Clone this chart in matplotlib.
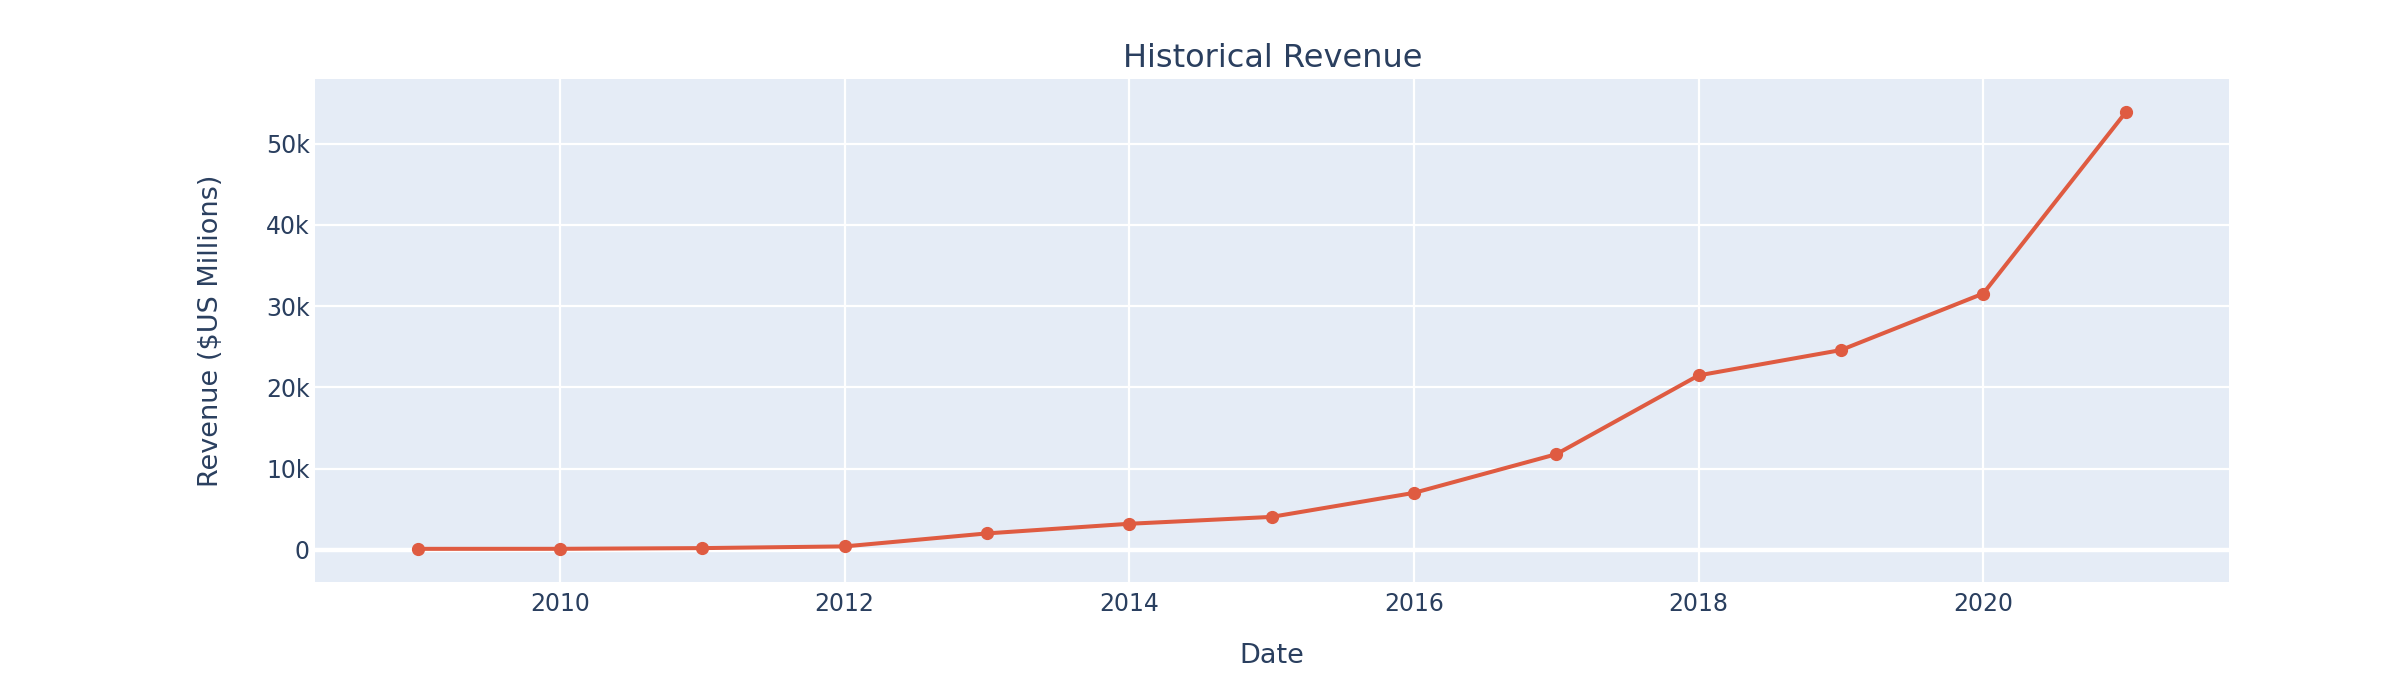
import matplotlib
matplotlib.use('Agg')
from matplotlib import pyplot as plt
from matplotlib.ticker import FuncFormatter

# Revenue ($US millions) by year
years = [2009, 2010, 2011, 2012, 2013, 2014, 2015, 2016, 2017, 2018, 2019, 2020, 2021]
revenue = [112, 117, 204, 413, 2013, 3198, 4046, 7000, 11759, 21461, 24578, 31536, 53823]

x_ticks = [2010, 2012, 2014, 2016, 2018, 2020]
y_ticks = [0, 10000, 20000, 30000, 40000, 50000]

txt = '#2a3f5f'
plt.rcParams['font.family'] = ['DejaVu Sans']

fig = plt.figure(figsize=(23.96, 6.96), dpi=100)
ax = fig.add_axes([0.1315, 0.164, 0.799, 0.722])
ax.set_facecolor('#E5ECF6')

ax.plot(years, revenue, color='#DF5B41', lw=2.9, marker='o', ms=8.5, zorder=3)

ax.set_xlim(2008.28, 2021.73)
ax.set_ylim(-3950, 57900)
ax.set_xticks(x_ticks)
ax.set_yticks(y_ticks)
ax.yaxis.set_major_formatter(FuncFormatter(lambda v, p: '0' if v == 0 else '%dk' % (v / 1000)))

ax.grid(color='white', lw=1.6, zorder=0)
ax.axhline(0, color='white', lw=3.2, zorder=1)
ax.set_axisbelow(True)
for s in ax.spines.values():
    s.set_visible(False)
ax.tick_params(length=0, labelsize=17, labelcolor=txt)
ax.tick_params(axis='x', pad=7)
ax.tick_params(axis='y', pad=4)

ax.set_title('Historical Revenue', fontsize=23, color=txt, pad=9)
ax.set_xlabel('Date', fontsize=19.5, color=txt, labelpad=20)
ax.set_ylabel('Revenue ($US Millions)', fontsize=19.5, color=txt, labelpad=30)

fig.savefig('out.png', dpi=100)
